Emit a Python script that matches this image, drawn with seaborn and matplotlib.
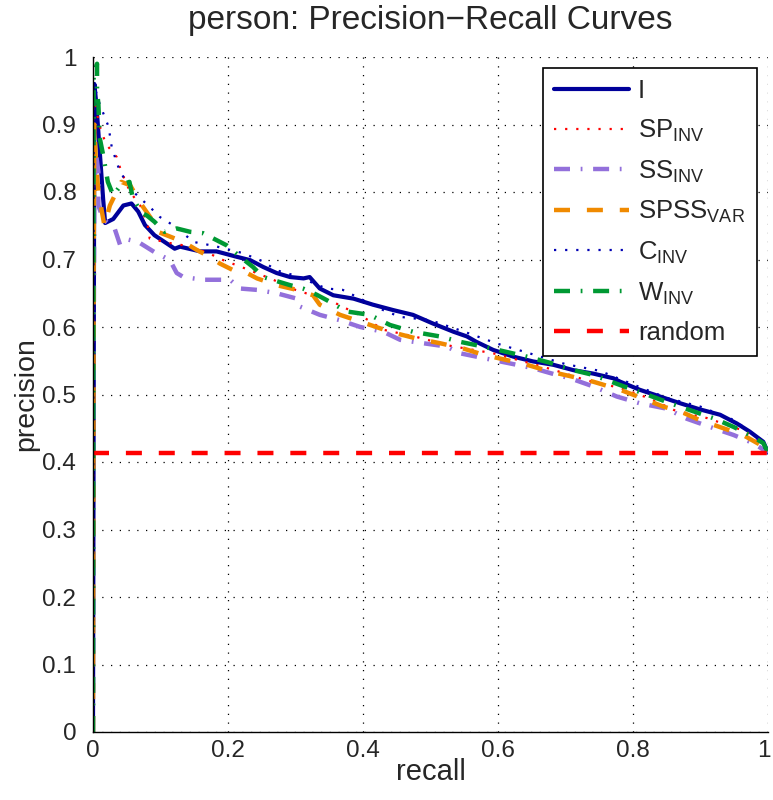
import matplotlib
matplotlib.use("Agg")
import matplotlib.pyplot as plt
import matplotlib.transforms as mtransforms
import seaborn as sns
import pandas as pd
from matplotlib.ticker import FuncFormatter

# Precision-recall curves for the "person" class
recall_I = [0.0, 0.002, 0.005, 0.01, 0.015, 0.018, 0.03, 0.045, 0.057, 0.067, 0.077, 0.091, 0.106, 0.121, 0.129,
            0.159, 0.183, 0.213, 0.233, 0.252, 0.272, 0.292, 0.312, 0.321, 0.336, 0.356, 0.386, 0.415, 0.445,
            0.474, 0.504, 0.534, 0.554, 0.568, 0.593, 0.623, 0.652, 0.682, 0.712, 0.741, 0.771, 0.781, 0.81,
            0.84, 0.87, 0.899, 0.929, 0.954, 0.973, 0.993, 1.0]
prec_I = [0.0, 0.96, 0.93, 0.86, 0.79, 0.754, 0.76, 0.78, 0.783, 0.771, 0.751, 0.736, 0.726, 0.716, 0.719,
          0.712, 0.712, 0.704, 0.699, 0.689, 0.68, 0.674, 0.672, 0.674, 0.657, 0.647, 0.642, 0.633, 0.625,
          0.618, 0.605, 0.593, 0.586, 0.578, 0.566, 0.556, 0.549, 0.544, 0.536, 0.531, 0.524, 0.519, 0.507,
          0.497, 0.487, 0.478, 0.47, 0.457, 0.445, 0.43, 0.414]

recall_SP = [0.0, 0.001, 0.005, 0.012, 0.02, 0.035, 0.042, 0.055, 0.07, 0.081, 0.084, 0.11, 0.14, 0.17, 0.193,
             0.23, 0.267, 0.3, 0.356, 0.4, 0.43, 0.48, 0.53, 0.593, 0.63, 0.667, 0.7, 0.731, 0.78, 0.825,
             0.865, 0.91, 0.968, 1.0]
prec_SP = [0.0, 0.95, 0.92, 0.89, 0.87, 0.852, 0.83, 0.8, 0.78, 0.751, 0.731, 0.725, 0.72, 0.71, 0.699,
           0.685, 0.67, 0.655, 0.637, 0.615, 0.596, 0.585, 0.572, 0.561, 0.551, 0.541, 0.531, 0.521, 0.51,
           0.494, 0.475, 0.465, 0.445, 0.414]

recall_SS = [0.0, 0.001, 0.002, 0.004, 0.008, 0.008, 0.015, 0.028, 0.032, 0.04, 0.05, 0.067, 0.091, 0.114,
             0.124, 0.134, 0.163, 0.203, 0.218, 0.243, 0.272, 0.302, 0.307, 0.336, 0.366, 0.396, 0.43, 0.455,
             0.489, 0.524, 0.544, 0.583, 0.618, 0.652, 0.687, 0.707, 0.741, 0.776, 0.81, 0.85, 0.88, 0.914,
             0.949, 0.978, 1.0]
prec_SS = [0.0, 0.55, 0.8, 0.86, 0.83, 0.78, 0.76, 0.749, 0.746, 0.722, 0.73, 0.726, 0.711, 0.699,
           0.68, 0.674, 0.67, 0.67, 0.657, 0.655, 0.65, 0.642, 0.63, 0.618, 0.61, 0.6, 0.593, 0.581,
           0.576, 0.571, 0.561, 0.553, 0.546, 0.539, 0.529, 0.524, 0.512, 0.497, 0.487, 0.479, 0.464, 0.452,
           0.44, 0.428, 0.414]

recall_SPSS = [0.0, 0.001, 0.002, 0.004, 0.008, 0.017, 0.025, 0.042, 0.055, 0.072, 0.086, 0.096, 0.114, 0.134,
               0.154, 0.173, 0.188, 0.208, 0.228, 0.243, 0.272, 0.302, 0.326, 0.336, 0.366, 0.405, 0.44, 0.479,
               0.514, 0.549, 0.578, 0.613, 0.643, 0.677, 0.712, 0.741, 0.781, 0.815, 0.845, 0.87, 0.899, 0.934,
               0.963, 0.993, 1.0]
prec_SPSS = [0.0, 0.7, 0.9, 0.85, 0.8, 0.75, 0.78, 0.815, 0.81, 0.781, 0.761, 0.741, 0.734, 0.726,
             0.714, 0.704, 0.694, 0.684, 0.68, 0.672, 0.662, 0.655, 0.647, 0.633, 0.618, 0.605, 0.593, 0.583,
             0.576, 0.568, 0.559, 0.551, 0.544, 0.534, 0.526, 0.519, 0.507, 0.494, 0.482, 0.475, 0.462, 0.45,
             0.44, 0.423, 0.414]

recall_C = [0.0, 0.001, 0.01, 0.023, 0.028, 0.04, 0.06, 0.084, 0.099, 0.12, 0.149, 0.18, 0.22, 0.25, 0.272,
            0.3, 0.346, 0.37, 0.4, 0.43, 0.455, 0.5, 0.55, 0.6, 0.65, 0.7, 0.751, 0.8, 0.85, 0.9, 0.95, 0.98, 1.0]
prec_C = [0.0, 0.96, 0.93, 0.897, 0.865, 0.83, 0.8, 0.778, 0.763, 0.75, 0.726, 0.72, 0.71, 0.698, 0.684,
          0.676, 0.657, 0.655, 0.64, 0.625, 0.615, 0.61, 0.593, 0.575, 0.56, 0.545, 0.535, 0.515, 0.495,
          0.482, 0.462, 0.44, 0.414]

recall_W = [0.0, 0.001, 0.006, 0.006, 0.008, 0.01, 0.015, 0.022, 0.03, 0.041, 0.054, 0.059, 0.071, 0.08, 0.091,
            0.106, 0.124, 0.144, 0.163, 0.198, 0.218, 0.237, 0.252, 0.292, 0.311, 0.331, 0.346, 0.376, 0.41,
            0.44, 0.474, 0.514, 0.544, 0.578, 0.613, 0.643, 0.677, 0.712, 0.741, 0.781, 0.815, 0.85, 0.884,
            0.919, 0.949, 0.973, 0.993, 1.0]
prec_W = [0.0, 0.97, 0.99, 0.95, 0.93, 0.88, 0.855, 0.815, 0.795, 0.81, 0.815, 0.791, 0.77, 0.765, 0.756,
          0.741, 0.746, 0.741, 0.739, 0.721, 0.704, 0.689, 0.674, 0.662, 0.657, 0.648, 0.64, 0.623, 0.618,
          0.603, 0.593, 0.586, 0.578, 0.571, 0.563, 0.556, 0.547, 0.536, 0.529, 0.514, 0.502, 0.489, 0.477,
          0.465, 0.452, 0.44, 0.428, 0.414]

recall_rand = [0.0, 1.0]
prec_rand = [0.414, 0.414]

x_ticks = [0, 0.2, 0.4, 0.6, 0.8, 1]
y_ticks = [0, 0.1, 0.2, 0.3, 0.4, 0.5, 0.6, 0.7, 0.8, 0.9, 1]

sns.set_style("white")
plt.rcParams["font.family"] = ["Liberation Sans", "DejaVu Sans"]
plt.rcParams["mathtext.fontset"] = "custom"
plt.rcParams["mathtext.rm"] = "Liberation Sans"

fig = plt.figure(figsize=(7.73, 8.0), dpi=100)
ax = fig.add_axes([0.1203, 0.085, 0.8732, 0.84375])

series = [
    ("I", recall_I, prec_I, "#00009a", dict(lw=3.0, linestyle="-")),
    (r"SP$_\mathregular{INV}$", recall_SP, prec_SP, "#ff0000", dict(lw=1.6, linestyle=(0, (1, 4)))),
    (r"SS$_\mathregular{INV}$", recall_SS, prec_SS, "#9370db", dict(lw=3.2, linestyle=(0, (3.6, 2.4, 0.4, 2.4)))),
    (r"SPSS$_\mathregular{VAR}$", recall_SPSS, prec_SPSS, "#f08a00", dict(lw=3.2, linestyle=(0, (3.6, 3.8)))),
    (r"C$_\mathregular{INV}$", recall_C, prec_C, "#0000b4", dict(lw=1.6, linestyle=(0, (1, 4)))),
    (r"W$_\mathregular{INV}$", recall_W, prec_W, "#009933", dict(lw=3.2, linestyle=(0, (3.6, 2.4, 0.4, 2.4)))),
    ("random", recall_rand, prec_rand, "#ff0000", dict(lw=3.2, linestyle=(0, (3.6, 3.8)))),
]

for label, r, p, color, style in series:
    df = pd.DataFrame({"recall": r, "precision": p})
    sns.lineplot(data=df, x="recall", y="precision", ax=ax, sort=False, estimator=None,
                 color=color, label=label, **style)

ax.set_xlim(0, 1)
ax.set_ylim(0, 1)
ax.set_xticks(x_ticks)
ax.set_yticks(y_ticks)
fmt = FuncFormatter(lambda v, pos: f"{v:g}")
ax.xaxis.set_major_formatter(fmt)
ax.yaxis.set_major_formatter(fmt)
ax.tick_params(direction="in", length=5, width=0.8, labelsize=17.5, color="black")
ax.tick_params(axis="y", pad=12)
ax.tick_params(axis="x", pad=6)
ax.grid(True, color="black", linestyle=(0, (1, 6)), linewidth=0.9)
ax.set_axisbelow(True)
for side in ("top", "right"):
    ax.spines[side].set_visible(False)
for side in ("left", "bottom"):
    ax.spines[side].set_color("black")
    ax.spines[side].set_linewidth(1.0)

# keep the rightmost x tick label inside the canvas
last_lbl = ax.xaxis.get_major_ticks()[-1].label1
last_lbl.set_transform(last_lbl.get_transform()
                       + mtransforms.ScaledTranslation(-3 / 72, 0, fig.dpi_scale_trans))

ax.set_xlabel("recall", fontsize=21, labelpad=-3)
ax.set_ylabel("precision", fontsize=20.5, labelpad=2)
ax.set_title("person: Precision\u2212Recall Curves", fontsize=24, pad=20)

leg = ax.legend(loc="upper right", bbox_to_anchor=(0.983, 0.984), fontsize=18.5, frameon=True,
                fancybox=False, shadow=False, handlelength=2.9, handletextpad=0.35,
                labelspacing=0.55, borderpad=0.45, borderaxespad=0.0)
leg.get_frame().set_edgecolor("black")
leg.get_frame().set_linewidth(1.2)
leg.get_frame().set_alpha(1)

fig.savefig("out.png", dpi=100, facecolor="white")
